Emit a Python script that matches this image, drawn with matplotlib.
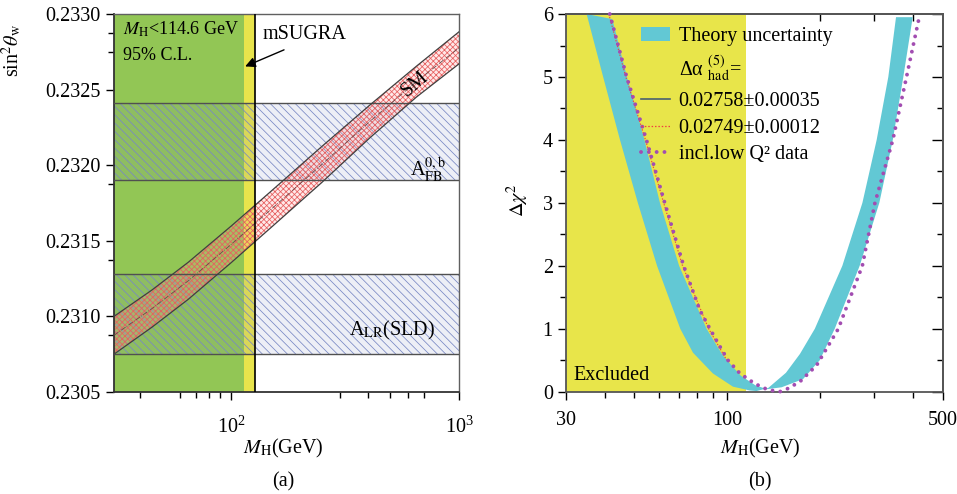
import numpy as np
import matplotlib.pyplot as plt
from matplotlib.patches import Patch
from matplotlib.lines import Line2D
from matplotlib.ticker import FixedLocator, FixedFormatter, NullFormatter, LogFormatterMathtext

plt.rcParams['font.family'] = ['Liberation Serif', 'DejaVu Serif']
plt.rcParams['mathtext.fontset'] = 'stix'
plt.rcParams['hatch.linewidth'] = 0.55

# ---- panel (a): sin^2 theta_w vs M_H ----
lep_limit = 114.6
msugra = 127.0
afb_band = (0.23190, 0.23241)
alr_band = (0.23075, 0.23128)

sm_m = [30.7, 45.0, 65.0, 100.0, 150.0, 250.0, 406.0, 650.0, 1000.0]
sm_up = [0.23100, 0.231174, 0.231358, 0.231596, 0.231828, 0.232123, 0.232397, 0.232654, 0.232882]
sm_lo = [0.23075, 0.230928, 0.231113, 0.231354, 0.231588, 0.231885, 0.232180, 0.232450, 0.232670]

# ---- panel (b): delta chi^2 vs M_H ----
band_a_m = [35.0, 39.6, 44.9, 51.3, 59.2, 70.4, 77.4, 89.8, 104.3, 118.1, 124.4,
            135.8, 154.9, 172.0, 192.2, 236.0, 274.1, 304.9, 332.6, 352.3]
band_a = [6.0, 5.0, 4.0, 3.0, 2.0, 1.0, 0.62, 0.29, 0.08, 0.02, 0.01,
          0.06, 0.3, 0.6, 1.0, 2.0, 3.0, 4.0, 5.0, 5.95]
band_b_m = [42.4, 47.3, 53.9, 60.5, 69.8, 85.7, 96.6, 110.3, 123.5, 134.6,
            150.0, 176.0, 199.4, 223.0, 268.6, 311.0, 343.9, 372.0, 399.0]
band_b = [5.92, 5.0, 4.0, 3.0, 2.0, 1.0, 0.58, 0.26, 0.1, 0.04,
          0.07, 0.2, 0.5, 1.0, 2.0, 3.0, 4.0, 5.0, 5.95]

lowq_m = [41.6, 47.2, 54.7, 62.7, 72.2, 81.4, 87.8, 94.6, 100.5, 109.9, 122.6, 135.4,
          148.0, 155.8, 172.0, 194.8, 217.9, 229.0, 274.0, 301.0, 344.0, 381.0, 421.0]
lowq = [6.0, 5.0, 4.0, 3.0, 2.0, 1.3, 1.0, 0.72, 0.5, 0.29, 0.13, 0.03,
        0.0, 0.04, 0.16, 0.42, 0.82, 1.0, 2.0, 3.0, 4.0, 5.0, 6.0]
red_m = [41.3, 46.9, 54.3, 62.2, 71.6, 87.0, 99.6]
red = [6.0, 5.0, 4.0, 3.0, 2.0, 1.0, 0.5]

fs = 14.5
fig = plt.figure(figsize=(9.57, 4.94), dpi=100)

# ================= (a) =================
ax1 = fig.add_axes([0.1191, 0.2065, 0.3605, 0.7652])
ax1.set_xscale('log')
ax1.set_xlim(30.7, 1000)
ax1.set_ylim(0.2305, 0.2330)

ax1.axvspan(30.7, lep_limit, color='#92c655', lw=0, zorder=0)
ax1.axvspan(lep_limit, msugra, color='#e8e44c', lw=0, zorder=0)
ax1.axvline(msugra, color='k', lw=1.2, zorder=5)

for lo, hi in [afb_band, alr_band]:
    ax1.fill_between([30.7, 1000], lo, hi, facecolor=(0.45, 0.5, 0.72, 0.12),
                     edgecolor='#7888c4', hatch='\\\\\\\\', lw=0, zorder=1)
    ax1.axhline(lo, color='#505050', lw=1.0, zorder=3)
    ax1.axhline(hi, color='#505050', lw=1.0, zorder=3)

ax1.fill_between(sm_m, sm_lo, sm_up, facecolor=(1.0, 0.6, 0.6, 0.22),
                 edgecolor='#e66060', hatch='xxxxxx', lw=0, zorder=2)
ax1.plot(sm_m, sm_up, color='#404040', lw=0.9, zorder=3)
ax1.plot(sm_m, sm_lo, color='#404040', lw=0.9, zorder=3)
ax1.plot(sm_m, (np.array(sm_up) + np.array(sm_lo)) / 2, color='#6a4848', lw=0.6, ls='-.', zorder=3)

ax1.text(33.6, 0.232896, r'$M_{\rm H}$<114.6 GeV', fontsize=13, va='center')
ax1.text(33.6, 0.232726, '95% C.L.', fontsize=13, va='center')
ax1.text(138, 0.232863, 'mSUGRA', fontsize=fs, va='center')
ax1.annotate('', xy=(112.5, 0.232646), xytext=(175.4, 0.23277),
             arrowprops=dict(arrowstyle='-|>', color='k', lw=1.0, mutation_scale=15), zorder=6)
ax1.text(640, 0.232537, 'SM', fontsize=fs, rotation=40, ha='center', va='center')
ax1.text(730, 0.23197, r'A$^{\rm 0,b}_{\rm FB}$', fontsize=fs, ha='center', va='center')
ax1.text(507, 0.230908, r'A$_{\rm LR}$(SLD)', fontsize=fs, ha='center', va='center')

ax1.xaxis.set_major_locator(FixedLocator([100, 1000]))
ax1.xaxis.set_major_formatter(LogFormatterMathtext())
ax1.xaxis.set_minor_locator(FixedLocator([40, 60, 70, 80, 90, 300, 400, 500, 600, 700]))
ax1.xaxis.set_minor_formatter(NullFormatter())
yt = [0.2305, 0.2310, 0.2315, 0.2320, 0.2325, 0.2330]
ax1.yaxis.set_major_locator(FixedLocator(yt))
ax1.yaxis.set_major_formatter(FixedFormatter(['%.4f' % v for v in yt]))
ax1.yaxis.set_minor_locator(FixedLocator([0.232875, 0.23275, 0.231875, 0.231375, 0.230875]))
ax1.tick_params(which='both', direction='out', labelsize=fs, width=1.0)
ax1.tick_params(which='major', length=6)
ax1.tick_params(which='minor', length=4)
ax1.tick_params(axis='x', pad=12)
for s in ['left', 'bottom']:
    ax1.spines[s].set_linewidth(1.3)
    ax1.spines[s].set_color('#333333')
for s in ['top', 'right']:
    ax1.spines[s].set_linewidth(1.0)
    ax1.spines[s].set_color('#606060')

fig.text(12 / 957, 1 - 50 / 494, r'sin$^2\theta_{\rm w}$', fontsize=fs, rotation=90,
         ha='center', va='center')
fig.text(283 / 957, 1 - 448 / 494, r'$M_{\rm H}$(GeV)', fontsize=fs, ha='center', va='center')
fig.text(283 / 957, 1 - 482 / 494, '(a)', fontsize=fs, ha='center', va='center')

# ================= (b) =================
ax2 = fig.add_axes([0.5914, 0.2071, 0.3939, 0.7645])
ax2.set_xscale('log')
ax2.set_xlim(30, 500)
ax2.set_ylim(0, 6)

ax2.axvspan(30, lep_limit, color='#e8e54a', lw=0, zorder=0)
ax2.fill(np.concatenate([band_a_m, band_b_m[::-1]]), np.concatenate([band_a, band_b[::-1]]),
         color='#62c8d4', lw=0, zorder=2)
ax2.plot(red_m, red, color='#f04040', lw=0.8, ls=(0, (1.2, 1.5)), zorder=3)
ax2.plot(lowq_m, lowq, color='#a24db1', lw=2.8, ls=(0, (0.01, 2.0)),
         dash_capstyle='round', zorder=4, clip_on=False)
ax2.text(31.7, 0.265, 'Excluded', fontsize=fs, va='center')

handles = [Patch(facecolor='#62c8d4', edgecolor='none'),
           Line2D([], [], color='none'),
           Line2D([], [], color='#4a6070', lw=1.2),
           Line2D([], [], color='#f04040', lw=0.9, ls=(0, (1.2, 1.5))),
           Line2D([], [], color='#a24db1', lw=2.8, ls=(0, (0.01, 2.0)), dash_capstyle='round')]
labels = ['Theory uncertainty', r'Δα ${}^{(5)}_{\rm had}$=', '0.02758±0.00035',
          '0.02749±0.00012', 'incl.low Q² data']
ax2.legend(handles, labels, loc='upper left', bbox_to_anchor=(0.2, 0.965), frameon=False,
           fontsize=fs, handlelength=1.4, handletextpad=0.45, labelspacing=0.38, borderpad=0,
           borderaxespad=0)

ax2.xaxis.set_major_locator(FixedLocator([30, 100, 500]))
ax2.xaxis.set_major_formatter(FixedFormatter(['30', '100', '500']))
ax2.xaxis.set_minor_locator(FixedLocator([40, 50, 60, 70, 80, 90, 200, 300, 400]))
ax2.xaxis.set_minor_formatter(NullFormatter())
ax2.yaxis.set_major_locator(FixedLocator([0, 1, 2, 3, 4, 5, 6]))
ax2.yaxis.set_minor_locator(FixedLocator([0.5, 1.5, 2.5, 3.5, 4.5, 5.5]))
ax2.tick_params(which='both', direction='out', labelsize=fs, width=1.0)
ax2.tick_params(which='major', length=6)
ax2.tick_params(which='minor', length=4)
ax2.tick_params(axis='x', pad=8)

sec_r = ax2.secondary_yaxis('right')
sec_r.yaxis.set_major_locator(FixedLocator([0, 1, 2, 3, 4, 5, 6]))
sec_r.yaxis.set_minor_locator(FixedLocator([0.5, 1.5, 2.5, 3.5, 4.5, 5.5]))
sec_r.tick_params(which='both', direction='in', labelright=False, width=1.0)
sec_r.tick_params(which='major', length=8)
sec_r.tick_params(which='minor', length=4)
sec_t = ax2.secondary_xaxis('top')
sec_t.xaxis.set_major_locator(FixedLocator([200, 300, 400]))
sec_t.xaxis.set_minor_locator(FixedLocator([]))
sec_t.tick_params(which='both', direction='in', labeltop=False, length=5, width=1.0)
for a in [ax2, sec_r, sec_t]:
    for s in a.spines.values():
        s.set_linewidth(1.3)
        s.set_color('#555555')

fig.text(518 / 957, 1 - 200 / 494, r'$\Delta\chi^2$', fontsize=fs, rotation=90,
         ha='center', va='center')
fig.text(760 / 957, 1 - 448 / 494, r'$M_{\rm H}$(GeV)', fontsize=fs, ha='center', va='center')
fig.text(760 / 957, 1 - 482 / 494, '(b)', fontsize=fs, ha='center', va='center')

fig.savefig('out.png', dpi=100)
